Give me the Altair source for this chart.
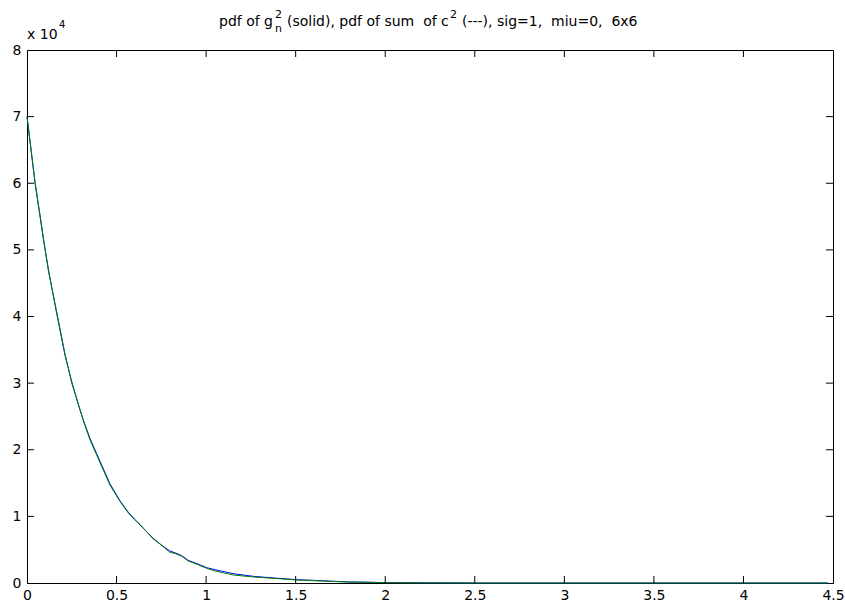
import altair as alt
import pandas as pd

# ---- data (y in units of 10^4) ----
x_vals = [0.0, 0.045, 0.095, 0.12, 0.156, 0.212, 0.25, 0.292, 0.314, 0.35,
          0.389, 0.463, 0.52, 0.566, 0.60, 0.631, 0.705, 0.75, 0.798, 0.83,
          0.864, 0.90, 0.95, 1.003, 1.05, 1.152, 1.264, 1.38, 1.506, 1.60,
          1.69, 1.80, 1.93, 2.0, 2.2, 2.5, 3.0, 3.5, 4.0, 4.47]
blue_vals = [7.0, 6.0, 5.1, 4.7, 4.18, 3.42, 3.02, 2.63, 2.45, 2.18,
             1.94, 1.49, 1.23, 1.06, 0.96, 0.87, 0.67, 0.57, 0.48, 0.45,
             0.41, 0.34, 0.29, 0.23, 0.20, 0.14, 0.10, 0.075, 0.05, 0.04,
             0.028, 0.016, 0.01, 0.006, 0.003, 0.0, 0.0, 0.0, 0.0, 0.0]
green_vals = [7.0, 6.02, 5.12, 4.68, 4.2, 3.44, 3.0, 2.64, 2.44, 2.16,
              1.92, 1.47, 1.22, 1.05, 0.95, 0.88, 0.66, 0.57, 0.46, 0.44,
              0.40, 0.33, 0.28, 0.22, 0.18, 0.12, 0.09, 0.07, 0.045, 0.035,
              0.025, 0.014, 0.009, 0.005, 0.002, 0.0, 0.0, 0.0, 0.0, 0.0]

x_tick_vals = [0, 0.5, 1, 1.5, 2, 2.5, 3, 3.5, 4, 4.5]
y_tick_vals = [0, 1, 2, 3, 4, 5, 6, 7, 8]
x_inner_ticks = [0.5, 1, 1.5, 2, 2.5, 3, 3.5, 4]
y_inner_ticks = [1, 2, 3, 4, 5, 6, 7]

NB = "\u00a0"
title_main = ["pdf of g",
              "(solid), pdf of sum" + NB + " of c",
              "(---), sig=1," + NB + " miu=0," + NB + " 6x6"]
title_sup = ["2", "2"]
title_sub = ["n"]
exp_label = ["x 10", "4"]

W, H = 806, 533
FONT = "DejaVu Sans"

df = pd.DataFrame({"x": x_vals, "b": blue_vals, "g": green_vals})

xs = alt.Scale(domain=[0, 4.5], nice=False, zero=False)
ys = alt.Scale(domain=[0, 8], nice=False, zero=False)

xaxis = alt.Axis(values=x_tick_vals, ticks=False, grid=False, domainColor="black",
                 domainWidth=1, labelColor="black", labelFont=FONT, labelFontSize=14,
                 labelPadding=5, labelFlush=False, labelOverlap=False,
                 labelExpr="'' + datum.value", title=None)
yaxis = alt.Axis(values=y_tick_vals, ticks=False, grid=False, domainColor="black",
                 domainWidth=1, labelColor="black", labelFont=FONT, labelFontSize=14,
                 labelPadding=6, labelFlush=False, labelOverlap=False,
                 labelExpr="'' + datum.value", title=None)

blue = alt.Chart(df).mark_line(color="#0000ff", strokeWidth=1).encode(
    x=alt.X("x:Q", scale=xs, axis=xaxis), y=alt.Y("b:Q", scale=ys, axis=yaxis))
green = alt.Chart(df).mark_line(color="#007f00", strokeWidth=1).encode(
    x=alt.X("x:Q", scale=xs, axis=xaxis), y=alt.Y("g:Q", scale=ys, axis=yaxis))

xt = alt.Chart(pd.DataFrame({"t": x_inner_ticks}))
yt = alt.Chart(pd.DataFrame({"t": y_inner_ticks}))
tick_bottom = xt.mark_rule(color="black", strokeWidth=1).encode(
    x=alt.X("t:Q", scale=xs, axis=xaxis), y=alt.value(H), y2=alt.value(H - 7))
tick_top = xt.mark_rule(color="black", strokeWidth=1).encode(
    x=alt.X("t:Q", scale=xs, axis=xaxis), y=alt.value(0), y2=alt.value(7))
tick_left = yt.mark_rule(color="black", strokeWidth=1).encode(
    y=alt.Y("t:Q", scale=ys, axis=yaxis), x=alt.value(0), x2=alt.value(7))
tick_right = yt.mark_rule(color="black", strokeWidth=1).encode(
    y=alt.Y("t:Q", scale=ys, axis=yaxis), x=alt.value(W), x2=alt.value(W - 7))


def txt(s, px, py, size, align="left"):
    return alt.Chart(pd.DataFrame({"s": [s]})).mark_text(
        align=align, baseline="alphabetic", font=FONT, fontSize=size, color="black"
    ).encode(text="s:N", x=alt.value(px), y=alt.value(py))


ox, oy = 27, 50  # plot origin on page
texts = [
    txt(title_main[0], 219 - ox, 26 - oy, 14),
    txt(title_sup[0], 275 - ox, 18 - oy, 11),
    txt(title_sub[0], 275 - ox, 32 - oy, 11),
    txt(title_main[1], 287 - ox, 26 - oy, 14),
    txt(title_sup[1], 450 - ox, 18 - oy, 11),
    txt(title_main[2], 462 - ox, 26 - oy, 14),
    txt(exp_label[0], 27 - ox, 39 - oy, 14),
    txt(exp_label[1], 59 - ox, 28 - oy, 10),
]

chart = alt.layer(blue, green, tick_bottom, tick_top, tick_left, tick_right, *texts).properties(
    width=W, height=H,
    padding={"left": ox, "top": oy, "right": 845 - ox - W, "bottom": 606 - oy - H},
    autosize=alt.AutoSizeParams(type="none"),
    background="white",
).configure_view(stroke="black", strokeWidth=1)

chart.save("out.html", embed_options={"renderer": "svg", "actions": False})
